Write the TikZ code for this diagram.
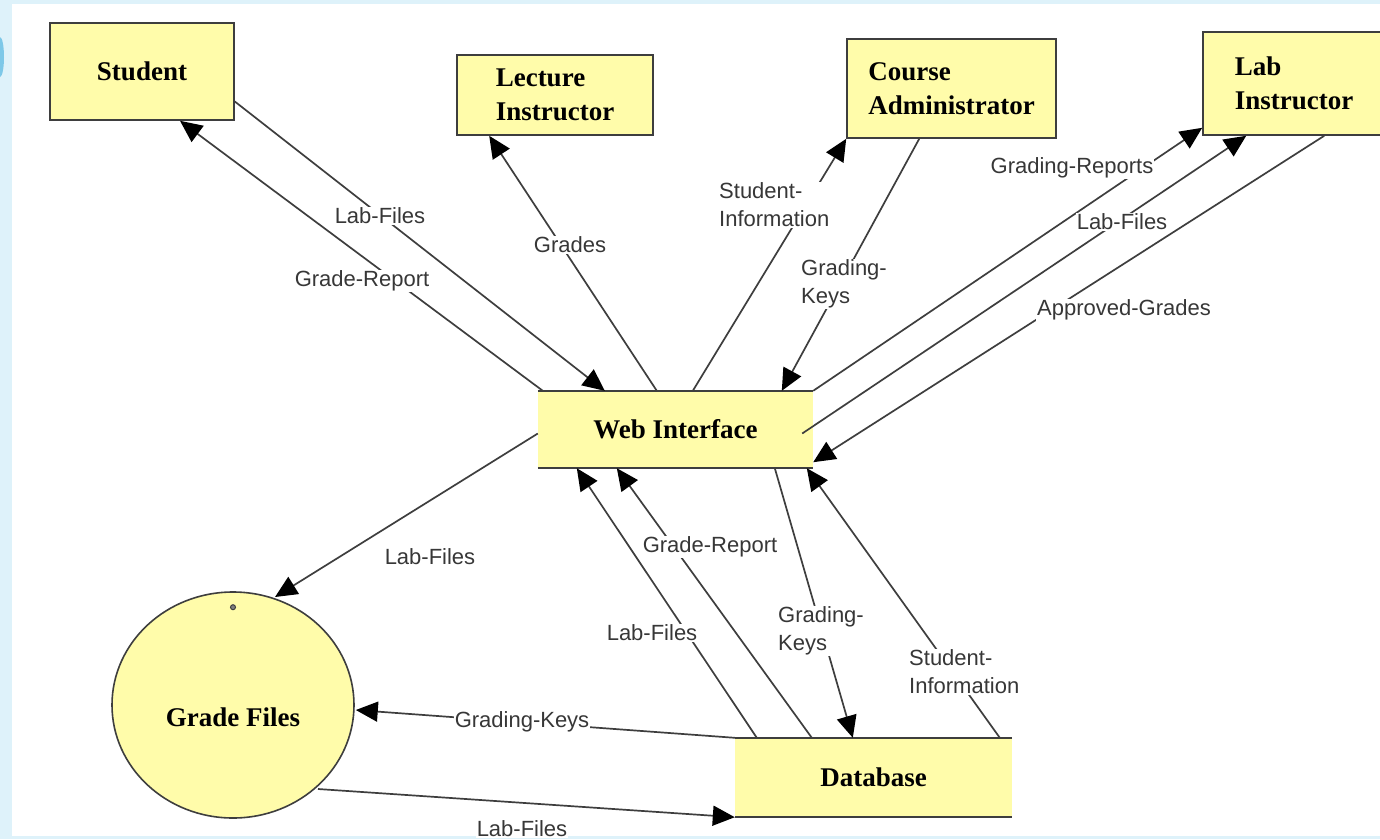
\documentclass[tikz,border=0pt]{standalone}
\usepackage{fontspec}
\setmainfont{Liberation Serif}
\newfontfamily\labfont{Liberation Sans}
\usetikzlibrary{arrows.meta,calc,shapes.geometric}
\definecolor{bgblue}{RGB}{222,242,250}
\definecolor{blobblue}{RGB}{125,200,232}
\definecolor{boxyellow}{RGB}{255,252,170}
\definecolor{linegray}{RGB}{62,62,62}
\definecolor{labgray}{RGB}{55,55,55}
\begin{document}
\begin{tikzpicture}[x=1pt,y=-1pt,
  ent/.style={draw=linegray, line width=1.6pt, fill=boxyellow, inner sep=0pt,
    font=\fontsize{27}{34}\selectfont\bfseries, align=left},
  flatbox/.style={fill=boxyellow, inner sep=0pt,
    font=\fontsize{27}{34}\selectfont\bfseries},
  boxline/.style={draw=linegray, line width=1.6pt},
  flow/.style={draw=linegray, line width=1.7pt,
    -{Triangle[length=22pt,width=20pt,color=black]}},
  lbl/.style={fill=white, inner sep=1pt, text=labgray,
    font=\labfont\fontsize{22}{28}\selectfont, align=left}
]
% background
\clip (0,0) rectangle (1380,839);
\fill[bgblue] (0,0) rectangle (1380,839);
\fill[white] (12,4) rectangle (1380,836);
\fill[blobblue] (0,57) ellipse (4 and 20);

% entities
\node[ent, minimum width=184pt, minimum height=97pt] (student) at (142,71.5) {Student};
\node[ent, minimum width=196pt, minimum height=80pt] (lecture) at (555,95) {Lecture\\Instructor};
\node[ent, minimum width=209pt, minimum height=99pt] (course) at (951.5,88.5) {Course\\Administrator};
\node[ent, minimum width=182pt, minimum height=103pt] (lab) at (1294,83.5) {Lab\\Instructor};

\node[flatbox, minimum width=275pt, minimum height=77pt] (web) at (675.5,429.5) {Web Interface};
\draw[boxline] (web.north west) -- (web.north east) (web.south west) -- (web.south east);

\node[flatbox, minimum width=277pt, minimum height=79pt] (db) at (873.5,777.5) {Database};
\draw[boxline] (db.north west) -- (db.north east) (db.south west) -- (db.south east);

\node[ellipse, draw=linegray, line width=1.6pt, fill=boxyellow, inner sep=0pt,
  minimum width=242pt, minimum height=226pt] (gf) at (233,705) {};
\node[font=\fontsize{27}{34}\selectfont\bfseries] (gftext) at ($(gf.center)+(0,12)$) {Grade Files};
\draw[linegray, line width=1pt, fill=gray] ($(gf.north)+(0,16)$) circle (2.5);

% connectors
\draw[flow] ($(web.north west)+(5,0)$) -- ($(student.south)+(38,0)$);
\draw[flow] ($(student.east)+(0,30)$) -- ($(web.north west)+(67,0)$);
\draw[flow] ($(web.north west)+(119,0)$) -- ($(lecture.south west)+(33,0)$);
\draw[flow] ($(web.north west)+(155,0)$) -- (course.south west);
\draw[flow] ($(course.south west)+(73,0)$) -- ($(web.north west)+(244,0)$);
\draw[flow] (web.north east) -- ($(lab.south west)+(0,-8)$);
\draw[flow] ($(web.east)+(-11,4)$) -- ($(lab.south west)+(44,0)$);
\draw[flow] ($(lab.south west)+(122,0)$) -- ($(web.south east)+(0,-6)$);
\draw[flow] ($(web.west)+(0,4)$) -- ($(gf.center)+(42,-108)$);
\draw[flow] ($(db.north west)+(22,0)$) -- ($(web.south west)+(39,0)$);
\draw[flow] ($(db.north west)+(77,0)$) -- ($(web.south west)+(79,0)$);
\draw[flow] ($(web.south west)+(237,0)$) -- ($(db.north west)+(118,0)$);
\draw[flow] ($(db.north west)+(265,0)$) -- ($(web.south west)+(269,0)$);
\draw[flow] (db.north west) -- ($(gf.east)+(1,5)$);
\draw[flow] ($(gf.center)+(85,84)$) -- (db.south west);

% labels
\node[lbl] (l1) at (380,216) {Lab-Files};
\node[lbl] (l2) at (362,281) {Grade-Report};
\node[lbl] (l3) at (570,245) {Grades};
\node[lbl, anchor=west] (l4) at (718,205) {Student-\\Information};
\node[lbl, anchor=west] (l5) at (800,284) {Grading-\\Keys};
\node[lbl] (l6) at (1072,168) {Grading-Reports};
\node[lbl] (l7) at (1122,222) {Lab-Files};
\node[lbl] (l8) at (1124,310) {Approved-Grades};
\node[lbl] (l9) at (430,557) {Lab-Files};
\node[lbl] (l10) at (710,547) {Grade-Report};
\node[lbl] (l11) at (652,633) {Lab-Files};
\node[lbl, anchor=west] (l12) at (777,631) {Grading-\\Keys};
\node[lbl, anchor=west] (l13) at (908,672) {Student-\\Information};
\node[lbl] (l14) at (522,722) {Grading-Keys};
\node[lbl] (l15) at (522,829) {Lab-Files};
\end{tikzpicture}
\end{document}
